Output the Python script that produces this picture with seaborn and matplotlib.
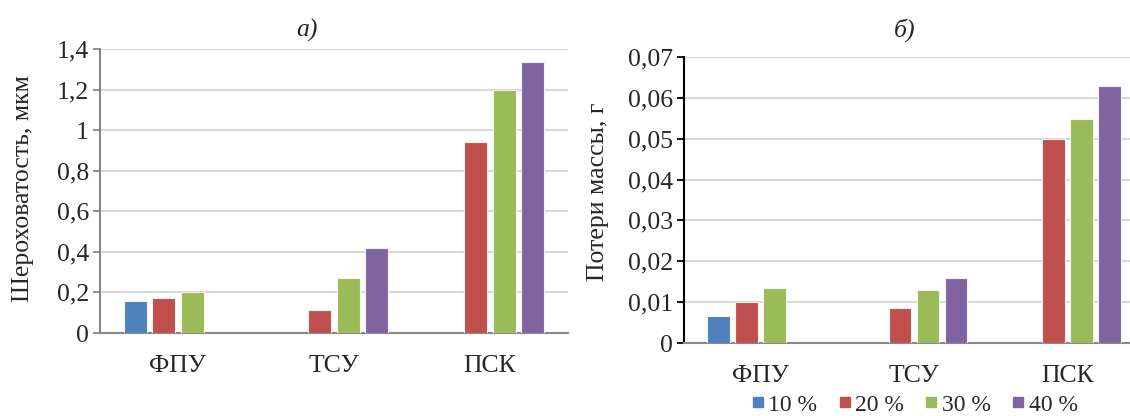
import numpy as np
import pandas as pd
import matplotlib
matplotlib.use("Agg")
import matplotlib.pyplot as plt
from matplotlib.lines import Line2D
import seaborn as sns

# data
categories = ["ФПУ", "ТСУ", "ПСК"]
series = ["10 %", "20 %", "30 %", "40 %"]
roughness = {
    "10 %": [0.16, np.nan, np.nan],
    "20 %": [0.175, 0.115, 0.94],
    "30 %": [0.2, 0.27, 1.2],
    "40 %": [np.nan, 0.42, 1.335],
}
mass_loss = {
    "10 %": [0.0067, np.nan, np.nan],
    "20 %": [0.0101, 0.0086, 0.05],
    "30 %": [0.0135, 0.013, 0.0548],
    "40 %": [np.nan, 0.016, 0.0629],
}
rough_ticks = [0, 0.2, 0.4, 0.6, 0.8, 1.0, 1.2, 1.4]
rough_labels = ["0", "0,2", "0,4", "0,6", "0,8", "1", "1,2", "1,4"]
mass_ticks = [0, 0.01, 0.02, 0.03, 0.04, 0.05, 0.06, 0.07]
mass_labels = ["0", "0,01", "0,02", "0,03", "0,04", "0,05", "0,06", "0,07"]
colors = ["#4F81BD", "#C0504D", "#9BBB59", "#8064A2"]


def to_long(d):
    rows = []
    for s in series:
        for c, v in zip(categories, d[s]):
            rows.append({"cat": c, "conc": s, "val": v})
    return pd.DataFrame(rows)


sns.set_theme(style="white")
plt.rcParams["font.family"] = ["Liberation Serif", "DejaVu Serif"]
FS = 18.5

fig = plt.figure(figsize=(11.3, 4.16), dpi=100)
ax1 = fig.add_axes([100 / 1130, 1 - 333 / 416, 468 / 1130, 284 / 416])
ax2 = fig.add_axes([684 / 1130, 1 - 343 / 416, 460 / 1130, 286 / 416])


def draw(ax, d, ticks, labels, ylabel, spine_col, lab_xy):
    sns.barplot(data=to_long(d), x="cat", y="val", hue="conc", hue_order=series,
                order=categories, palette=colors, saturation=1, width=0.73,
                gap=0.2, errorbar=None, legend=False, edgecolor="#F2F2F2",
                linewidth=0.8, ax=ax, zorder=3)
    ax.set_ylim(0, ticks[-1])
    ax.set_yticks(ticks)
    ax.set_yticklabels(labels, fontsize=FS)
    ax.set_xlim(-0.5, 2.5)
    ax.tick_params(axis="x", length=0, pad=16, labelsize=FS)
    ax.tick_params(axis="y", length=5, width=1.3, color=spine_col, pad=3,
                   left=True)
    ax.grid(axis="y", color="#D9D9D9", lw=1.5, zorder=0)
    ax.set_axisbelow(True)
    for s in ["top", "right"]:
        ax.spines[s].set_visible(False)
    ax.spines["left"].set_color(spine_col)
    ax.spines["left"].set_linewidth(1.5)
    ax.spines["bottom"].set_color("#898989")
    ax.spines["bottom"].set_linewidth(1.5)
    ax.set_xlabel("")
    ax.set_ylabel(ylabel, fontsize=FS)
    ax.yaxis.set_label_coords(*lab_xy)


draw(ax1, roughness, rough_ticks, rough_labels, "Шероховатость, мкм",
     "#868686", (-0.14, 0.51))
draw(ax2, mass_loss, mass_ticks, mass_labels, "Потери массы, г",
     "#000000", (-0.163, 0.53))

fig.text(307 / 1130, 1 - 30 / 416, "а)", fontsize=FS, style="italic",
         ha="center", va="center")
fig.text(905 / 1130, 1 - 30 / 416, "б)", fontsize=FS, style="italic",
         ha="center", va="center")

handles = [Line2D([], [], marker="s", ls="", color=c, markersize=6.5) for c in colors]
fig.legend(handles, series, loc="center", bbox_to_anchor=(913 / 1130, 1 - 405 / 416),
           ncol=4, frameon=False, fontsize=17, handletextpad=0.05,
           columnspacing=0.75, handlelength=0.8, borderpad=0.1)

fig.savefig("out.png", dpi=100)
